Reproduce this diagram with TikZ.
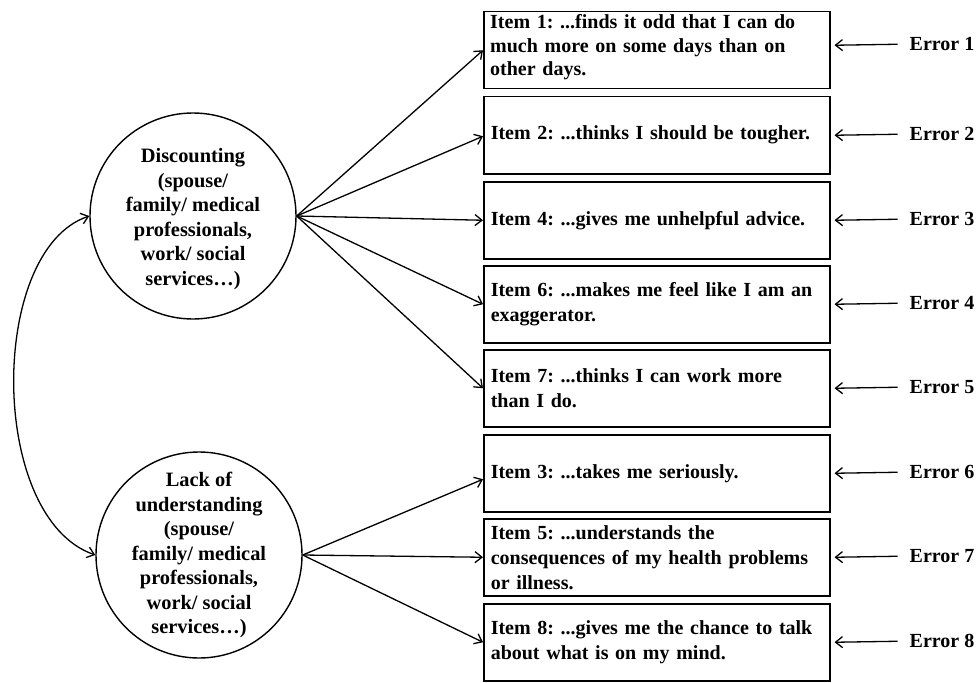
\documentclass[tikz,border=0pt]{standalone}
\usepackage{fontspec}
\setmainfont{Liberation Serif}
\frenchspacing
\usetikzlibrary{arrows.meta,calc}
\tikzset{
  itembox/.style={draw, line width=1.5pt, anchor=north west, minimum width=346pt, minimum height=77pt,
    text width=332pt, inner xsep=7pt, align=left, font=\fontsize{20}{25}\selectfont\bfseries},
  itemtext/.style={anchor=north west, inner sep=0pt, text width=332pt, align=left, font=\fontsize{20}{23.5}\selectfont\bfseries},
  latent/.style={draw, circle, line width=1.4pt, minimum size=206pt, inner sep=0pt},
  latenttext/.style={align=center, font=\fontsize{20.4}{24.5}\selectfont\bfseries},
  errlabel/.style={anchor=west, inner sep=0pt, font=\fontsize{20}{24}\selectfont\bfseries},
  conn/.style={line width=1.3pt, -{Straight Barb[length=7pt,width=11pt]}},
  corr/.style={line width=1.3pt, {Straight Barb[length=7pt,width=11pt]}-{Straight Barb[length=7pt,width=11pt]}}
}
\begin{document}
\begin{tikzpicture}[x=1pt,y=-1pt]
\useasboundingbox (0,0) rectangle (976,682);
% latent factors
\node[latent] (d1) at (193,216) {};
\node[latenttext] (d1t) at (193,219) {Discounting\\(spouse/\\family/ medical\\professionals,\\work/ social\\services…)};
\node[latent] (d2) at (199,555) {};
\node[latenttext] (d2t) at (199,555) {Lack of\\understanding\\(spouse/\\family/ medical\\professionals,\\work/ social\\services…)};
% items
\node[itembox] (b1) at (483,11) {};
\node[itemtext] (b1t) at ($(b1.north west)+(7,3.5)$) {Item 1: ...finds it odd that I can do\\much more on some days than on\\other days.};
\node[itembox] (b2) at (483,96) {Item 2: ...thinks I should be tougher.};
\node[itembox] (b3) at (483,181) {Item 4: ...gives me unhelpful advice.};
\node[itembox] (b4) at (483,265) {Item 6: ...makes me feel like I am an\\exaggerator.};
\node[itembox] (b5) at (483,349) {Item 7: ...thinks I can work more\\than I do.};
\node[itembox] (b6) at (483,434) {Item 3: ...takes me seriously.};
\node[itembox] (b7) at (483,518) {Item 5: ...understands the\\consequences of my health problems\\or illness.};
\node[itembox] (b8) at (483,603) {Item 8: ...gives me the chance to talk\\about what is on my mind.};
% error labels
\node[errlabel] (e1) at ($(b1.east)+(79,-6)$) {Error 1};
\draw[conn] ($(e1.west)+(-12,0)$) -- ($(b1.east)+(4,-5)$);
\foreach \i in {2,...,8}{
  \node[errlabel] (e\i) at ($(b\i.east)+(79,-1)$) {Error \i};
  \draw[conn] ($(e\i.west)+(-12,0)$) -- ($(b\i.east)+(4,0)$);
}
% loadings
\draw[conn] (d1.east) -- (b1.west);
\draw[conn] (d1.east) -- ($(b2.west)+(0,1)$);
\draw[conn] (d1.east) -- (b3.west);
\draw[conn] (d1.east) -- (b4.west);
\draw[conn] (d1.east) -- (b5.west);
\draw[conn] (d2.east) -- ($(b6.west)+(0,6)$);
\draw[conn] (d2.east) -- (b7.west);
\draw[conn] (d2.east) -- (b8.west);
% correlation
\draw[corr] (d1.west) .. controls (-12,250) and (-12,518) .. (d2.west);
\end{tikzpicture}
\end{document}
